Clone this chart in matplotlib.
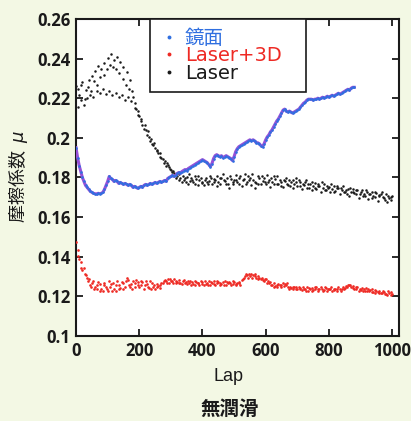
import matplotlib
matplotlib.use('Agg')
import matplotlib.pyplot as plt
from matplotlib.lines import Line2D

# --- data ---
# 鏡面 : one sample every 5 laps
mirror_laps = list(range(0, 881, 5))
mirror_mu = [
    0.195, 0.190, 0.186, 0.183, 0.180, 0.178, 0.176, 0.175, 0.174, 0.173,
    0.1725, 0.172, 0.1718, 0.1715, 0.172, 0.1718, 0.172, 0.1725, 0.174, 0.176,
    0.178, 0.1805, 0.1795, 0.179, 0.178, 0.1785, 0.178, 0.177, 0.1775, 0.177,
    0.1765, 0.177, 0.1765, 0.176, 0.1765, 0.176, 0.175, 0.1755, 0.175, 0.1745,
    0.175, 0.1755, 0.175, 0.176, 0.1765, 0.176, 0.1765, 0.177, 0.1765, 0.177,
    0.1775, 0.177, 0.1775, 0.178, 0.1775, 0.178, 0.1785, 0.178, 0.1795, 0.180,
    0.1805, 0.181, 0.1805, 0.181, 0.182, 0.1825, 0.182, 0.183, 0.1835, 0.184,
    0.1835, 0.1845, 0.185, 0.1855, 0.186, 0.1865, 0.187, 0.1875, 0.188, 0.1885,
    0.189, 0.1885, 0.188, 0.1875, 0.1865, 0.1855, 0.187, 0.1895, 0.191, 0.1915,
    0.191, 0.1905, 0.191, 0.190, 0.1905, 0.191, 0.1905, 0.190, 0.1895, 0.1885,
    0.1905, 0.193, 0.1945, 0.1955, 0.196, 0.1965, 0.197, 0.1975, 0.198, 0.1985,
    0.199, 0.1985, 0.199, 0.1985, 0.1975, 0.1975, 0.197, 0.196, 0.1955, 0.197,
    0.199, 0.2005, 0.2015, 0.203, 0.204, 0.2055, 0.207, 0.2085, 0.2095, 0.211,
    0.2125, 0.214, 0.2145, 0.2135, 0.213, 0.2135, 0.213, 0.2125, 0.213, 0.2135,
    0.214, 0.2145, 0.2155, 0.2165, 0.2175, 0.218, 0.219, 0.2195, 0.2195, 0.2195,
    0.219, 0.2195, 0.2195, 0.220, 0.2195, 0.220, 0.2205, 0.220, 0.2205, 0.221,
    0.2205, 0.221, 0.2215, 0.221, 0.2215, 0.222, 0.2225, 0.222, 0.2225, 0.223,
    0.2235, 0.224, 0.2245, 0.224, 0.225, 0.2255, 0.2255,
]

# Laser+3D : three interleaved sample sets
laser3d_laps_a = list(range(0, 1001, 10))
laser3d_mu_a = [
    0.1475, 0.139, 0.1335, 0.131, 0.1285, 0.1265, 0.1245, 0.127, 0.1235, 0.1255,
    0.1225, 0.126, 0.1235, 0.1275, 0.124, 0.1265, 0.129, 0.1245, 0.1275, 0.128,
    0.1245, 0.127, 0.1275, 0.124, 0.1265, 0.1235, 0.125, 0.1265, 0.128, 0.1285,
    0.1275, 0.1285, 0.127, 0.1265, 0.128, 0.126, 0.1275, 0.126, 0.127, 0.1255,
    0.127, 0.126, 0.1275, 0.1265, 0.1255, 0.127, 0.126, 0.1275, 0.1265, 0.1255,
    0.127, 0.1265, 0.1255, 0.1295, 0.131, 0.1305, 0.131, 0.1295, 0.1295, 0.128,
    0.1285, 0.1265, 0.1255, 0.125, 0.126, 0.1255, 0.126, 0.1245, 0.124, 0.1245,
    0.1235, 0.124, 0.1235, 0.1245, 0.1235, 0.123, 0.1245, 0.1235, 0.1225, 0.124,
    0.1235, 0.1225, 0.1235, 0.1245, 0.1235, 0.124, 0.1255, 0.1245, 0.1235, 0.1245,
    0.123, 0.1235, 0.1225, 0.123, 0.122, 0.1225, 0.1215, 0.1225, 0.121, 0.1215,
    0.121,
]
laser3d_laps_b = list(range(5, 1000, 10))
laser3d_mu_b = [
    0.1435, 0.1375, 0.1345, 0.1295, 0.1255, 0.1275, 0.1235, 0.126, 0.1225, 0.1245,
    0.1275, 0.1225, 0.1255, 0.1235, 0.127, 0.1245, 0.128, 0.126, 0.1245, 0.127,
    0.1255, 0.1235, 0.126, 0.1275, 0.1245, 0.126, 0.124, 0.1265, 0.1275, 0.1265,
    0.1275, 0.1265, 0.128, 0.126, 0.1265, 0.1275, 0.1255, 0.1275, 0.1265, 0.1275,
    0.1255, 0.1265, 0.1255, 0.1275, 0.1265, 0.1255, 0.127, 0.1255, 0.127, 0.126,
    0.1255, 0.127, 0.128, 0.1305, 0.1295, 0.1315, 0.1305, 0.1285, 0.1285, 0.1275,
    0.1265, 0.127, 0.1245, 0.1245, 0.1255, 0.1265, 0.1255, 0.1235, 0.1245, 0.1235,
    0.1245, 0.123, 0.1235, 0.1225, 0.124, 0.1235, 0.1225, 0.1245, 0.123, 0.1225,
    0.1235, 0.123, 0.1225, 0.1235, 0.1245, 0.125, 0.1255, 0.124, 0.1235, 0.1225,
    0.124, 0.1225, 0.1235, 0.122, 0.123, 0.122, 0.1215, 0.122, 0.1205, 0.122,
]
laser3d_laps_c = list(range(7, 1000, 10))
laser3d_mu_c = [
    0.1405, 0.1345, 0.1315, 0.1275, 0.1245, 0.1235, 0.1255, 0.1225, 0.1265, 0.1235,
    0.1245, 0.1265, 0.1225, 0.1255, 0.1235, 0.1275, 0.1255, 0.1235, 0.1265, 0.1255,
    0.1275, 0.1255, 0.1245, 0.1235, 0.1255, 0.1245, 0.1255, 0.1275, 0.1265, 0.1285,
    0.1265, 0.1275, 0.1265, 0.1275, 0.127, 0.1265, 0.127, 0.1255, 0.1265, 0.126,
    0.1275, 0.1255, 0.127, 0.126, 0.1275, 0.1265, 0.1255, 0.127, 0.1265, 0.1275,
    0.126, 0.1265, 0.1285, 0.1315, 0.1315, 0.1295, 0.1315, 0.1305, 0.1295, 0.1285,
    0.1275, 0.1255, 0.1265, 0.1255, 0.1245, 0.125, 0.1265, 0.1245, 0.1235, 0.1245,
    0.1235, 0.1245, 0.1225, 0.124, 0.1225, 0.1245, 0.1235, 0.1235, 0.1245, 0.1235,
    0.1245, 0.1235, 0.1235, 0.1225, 0.1235, 0.1245, 0.1255, 0.125, 0.1245, 0.1235,
    0.1225, 0.124, 0.1225, 0.1235, 0.1215, 0.1225, 0.1215, 0.121, 0.1225, 0.1205,
]

# Laser : three interleaved sample sets (upper / lower strand early on)
laser_laps_a = list(range(0, 1001, 10))
laser_mu_a = [
    0.226, 0.2215, 0.228, 0.224, 0.229, 0.231, 0.2335, 0.236, 0.2345, 0.238,
    0.2405, 0.2425, 0.2395, 0.241, 0.2385, 0.2355, 0.233, 0.229, 0.2205, 0.2145,
    0.211, 0.2065, 0.204, 0.2005, 0.197, 0.195, 0.1925, 0.190, 0.1885, 0.1865,
    0.184, 0.182, 0.1805, 0.1795, 0.1785, 0.180, 0.178, 0.1775, 0.179, 0.1785,
    0.1775, 0.1795, 0.178, 0.1765, 0.1785, 0.1775, 0.1795, 0.178, 0.1765, 0.179,
    0.1785, 0.1775, 0.1805, 0.179, 0.1775, 0.1795, 0.1785, 0.177, 0.1795, 0.178,
    0.1765, 0.1785, 0.1775, 0.179, 0.1765, 0.1775, 0.178, 0.176, 0.1775, 0.1765,
    0.1755, 0.1775, 0.176, 0.1745, 0.1765, 0.1755, 0.174, 0.1755, 0.1745, 0.1735,
    0.175, 0.174, 0.173, 0.1745, 0.1735, 0.1725, 0.174, 0.1725, 0.172, 0.1735,
    0.1725, 0.1715, 0.1725, 0.1715, 0.1705, 0.172, 0.171, 0.170, 0.1715, 0.1695,
    0.1705,
]
laser_laps_b = list(range(5, 1000, 10))
laser_mu_b = [
    0.2155, 0.219, 0.2165, 0.220, 0.2215, 0.2205, 0.2235, 0.2225, 0.2245, 0.222,
    0.2235, 0.2215, 0.2225, 0.2205, 0.2215, 0.219, 0.2205, 0.2185, 0.215, 0.2115,
    0.2085, 0.2045, 0.2015, 0.1985, 0.1965, 0.1935, 0.1905, 0.1895, 0.186, 0.1855,
    0.1825, 0.1795, 0.1815, 0.1775, 0.1795, 0.1765, 0.1795, 0.1805, 0.176, 0.1795,
    0.176, 0.1775, 0.1805, 0.179, 0.1755, 0.1795, 0.1815, 0.1765, 0.1745, 0.1775,
    0.181, 0.1795, 0.1755, 0.1815, 0.1805, 0.176, 0.1745, 0.1805, 0.1765, 0.1795,
    0.181, 0.175, 0.1765, 0.1805, 0.1785, 0.175, 0.1795, 0.1785, 0.1745, 0.1775,
    0.1785, 0.174, 0.1775, 0.1765, 0.1735, 0.177, 0.1755, 0.1725, 0.1765, 0.1755,
    0.1725, 0.1755, 0.1745, 0.1715, 0.1755, 0.1735, 0.1705, 0.174, 0.1715, 0.1695,
    0.1735, 0.1705, 0.169, 0.1725, 0.170, 0.168, 0.1715, 0.1695, 0.1675, 0.170,
]
laser_laps_c = list(range(7, 1000, 10))
laser_mu_c = [
    0.2245, 0.2265, 0.2195, 0.2255, 0.2235, 0.2285, 0.2265, 0.2305, 0.2315, 0.2345,
    0.237, 0.2355, 0.2345, 0.2325, 0.2295, 0.2265, 0.2245, 0.2235, 0.2175, 0.2135,
    0.2095, 0.2065, 0.2035, 0.1995, 0.1975, 0.194, 0.1925, 0.1875, 0.1875, 0.1845,
    0.1835, 0.1815, 0.1785, 0.1805, 0.1775, 0.1815, 0.1785, 0.1765, 0.1805, 0.177,
    0.1785, 0.1765, 0.1795, 0.1775, 0.1805, 0.1765, 0.1785, 0.1795, 0.1805, 0.1765,
    0.1785, 0.1765, 0.1785, 0.1765, 0.1785, 0.1815, 0.1775, 0.1765, 0.1805, 0.1775,
    0.1775, 0.1795, 0.1805, 0.1765, 0.1755, 0.1785, 0.1765, 0.1755, 0.1785, 0.1795,
    0.1755, 0.1765, 0.1785, 0.1745, 0.1775, 0.1745, 0.1765, 0.1775, 0.1735, 0.1745,
    0.1765, 0.1725, 0.1755, 0.1745, 0.1725, 0.1715, 0.1745, 0.1725, 0.1735, 0.1715,
    0.1705, 0.1735, 0.1715, 0.1695, 0.1725, 0.1705, 0.1725, 0.1685, 0.1705, 0.1685,
]

series_names = ['鏡面', 'Laser+3D', 'Laser']
series_colors = ['#2f6fe0', '#ee2a24', '#1a1a1a']
x_ticks = [0, 200, 400, 600, 800, 1000]
y_ticks = [0.1, 0.12, 0.14, 0.16, 0.18, 0.2, 0.22, 0.24, 0.26]
y_tick_labels = ['0.1', '0.12', '0.14', '0.16', '0.18', '0.2', '0.22', '0.24', '0.26']

bg = '#f3f8e4'
fig = plt.figure(figsize=(4.11, 4.21), dpi=100, facecolor=bg)
ax = fig.add_axes([0.185, 0.202, 0.786, 0.753])
ax.set_facecolor('white')

# 鏡面: purple halo under blue dots
ax.plot(mirror_laps, mirror_mu, color='#9650d8', lw=2.2, zorder=3)
ax.plot(mirror_laps, mirror_mu, color=series_colors[0], ls='none',
        marker='o', ms=1.9, mew=0, zorder=4)

for laps, mu in [(laser3d_laps_a, laser3d_mu_a), (laser3d_laps_b, laser3d_mu_b),
                 (laser3d_laps_c, laser3d_mu_c)]:
    ax.plot(laps, mu, ls='none', marker='o', ms=1.9, mew=0,
            color=series_colors[1], zorder=3)
for laps, mu in [(laser_laps_a, laser_mu_a), (laser_laps_b, laser_mu_b),
                 (laser_laps_c, laser_mu_c)]:
    ax.plot(laps, mu, ls='none', marker='o', ms=1.8, mew=0,
            color=series_colors[2], zorder=2)

ax.set_xlim(0, 1022)
ax.set_ylim(0.1, 0.26)
ax.set_xticks(x_ticks)
ax.set_yticks(y_ticks)
ax.set_yticklabels(y_tick_labels)

tick_font = {'family': 'Open Sans', 'weight': 'bold', 'size': 12}
for lbl in ax.get_xticklabels() + ax.get_yticklabels():
    lbl.set_fontproperties(tick_font)
ax.tick_params(direction='in', length=5, width=1.3, top=True, right=True,
               pad=4, colors='#1a1a1a')
for s in ax.spines.values():
    s.set_linewidth(1.5)
    s.set_color('#1a1a1a')

fig.text(0.555, 0.105, 'Lap', ha='center', va='center', fontsize=13,
         family=['Liberation Sans', 'Noto Sans CJK JP'], color='#1a1a1a')
fig.text(0.043, 0.58, '摩擦係数  $\\mu$', ha='center', va='center', rotation=90,
         fontsize=13, family=['Noto Sans CJK JP', 'DejaVu Sans'], color='#1a1a1a')
fig.text(0.56, 0.027, '無潤滑', ha='center', va='center', fontsize=14,
         weight='bold', family=['Noto Sans CJK JP'], color='#1a1a1a')

handles = [Line2D([], [], ls='none', marker='o', ms=2.8, mew=0, color=c)
           for c in series_colors]
leg = ax.legend(handles, series_names, loc='upper left',
                bbox_to_anchor=(0.229, 0.0, 0.483, 1.0), mode='expand',
                frameon=True, fancybox=False,
                edgecolor='#1a1a1a', framealpha=1,
                prop={'family': ['DejaVu Sans', 'Noto Sans CJK JP'], 'size': 14},
                labelcolor=series_colors, handlelength=0.95, handletextpad=0.35,
                borderpad=0.5, labelspacing=-0.08, borderaxespad=0)
leg.get_frame().set_linewidth(1.2)

fig.savefig('out.png', dpi=100, facecolor=bg)
